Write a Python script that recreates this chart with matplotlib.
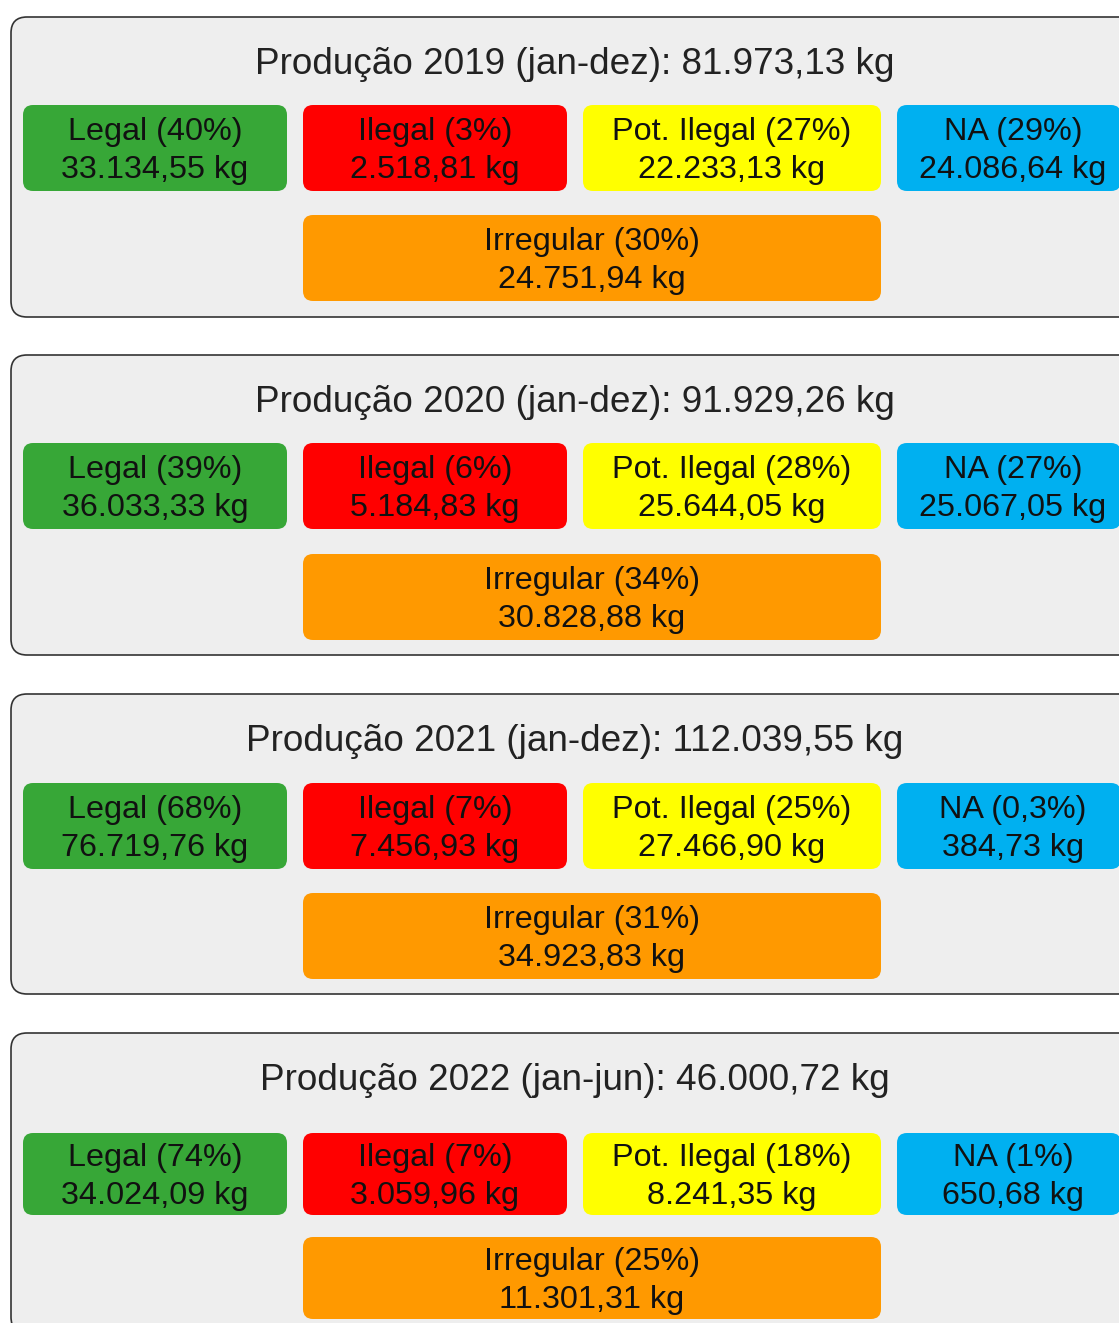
import matplotlib.pyplot as plt
from matplotlib.patches import FancyBboxPatch

plt.rcParams['font.family'] = ['Liberation Sans', 'DejaVu Sans']

# data per year
years = ['2019', '2020', '2021', '2022']
periods = ['jan-dez', 'jan-dez', 'jan-dez', 'jan-jun']
totals = ['81.973,13', '91.929,26', '112.039,55', '46.000,72']

categories = ['Legal', 'Ilegal', 'Pot. Ilegal', 'NA', 'Irregular']
pct_legal = ['40%', '39%', '68%', '74%']
pct_ilegal = ['3%', '6%', '7%', '7%']
pct_pot = ['27%', '28%', '25%', '18%']
pct_na = ['29%', '27%', '0,3%', '1%']
pct_irreg = ['30%', '34%', '31%', '25%']

kg_legal = ['33.134,55', '36.033,33', '76.719,76', '34.024,09']
kg_ilegal = ['2.518,81', '5.184,83', '7.456,93', '3.059,96']
kg_pot = ['22.233,13', '25.644,05', '27.466,90', '8.241,35']
kg_na = ['24.086,64', '25.067,05', '384,73', '650,68']
kg_irreg = ['24.751,94', '30.828,88', '34.923,83', '11.301,31']

colors = ['#37a737', '#ff0000', '#ffff00', '#00b0f0', '#ff9900']

W, H = 1119, 1323
fig = plt.figure(figsize=(W/100, H/100), dpi=100)
ax = fig.add_axes([0, 0, 1, 1])
ax.set_xlim(0, W)
ax.set_ylim(H, 0)
ax.axis('off')

# layout (pixels)
panel_top = [17, 355, 694, 1033]
panel_h = 300
title_off = 47.5
row1_off = [88, 88, 89, 100]
row2_off = [198, 199, 199, 204]
box_h = [86, 86, 86, 82]
cols_x = [(23, 287), (303, 567), (583, 881), (897, 1121)]
irreg_x = (303, 881)

def rbox(x0, x1, y0, h, fc, ec='none', lw=0, r=10):
    p = FancyBboxPatch((x0 + r, y0 + r), (x1 - x0) - 2*r, h - 2*r,
                       boxstyle='round,pad=%d' % r, fc=fc, ec=ec, lw=lw)
    ax.add_patch(p)

def label(xc, yc, top, bottom):
    ax.text(xc, yc - 16, top, ha='center', va='center', fontsize=23.3, color='#111111')
    ax.text(xc, yc + 22, bottom, ha='center', va='center', fontsize=23.3, color='#111111')

for i in range(len(years)):
    t = panel_top[i]
    rbox(11, 1140, t, panel_h, '#eeeeee', '#333333', 1.2, r=16)
    ax.text(575, t + title_off, 'Produção %s (%s): %s kg' % (years[i], periods[i], totals[i]),
            ha='center', va='center', fontsize=26.6, color='#222222')
    pcts = [pct_legal[i], pct_ilegal[i], pct_pot[i], pct_na[i]]
    kgs = [kg_legal[i], kg_ilegal[i], kg_pot[i], kg_na[i]]
    y0 = t + row1_off[i]
    for j in range(4):
        x0, x1 = cols_x[j]
        rbox(x0, x1, y0, box_h[i], colors[j])
        label((x0 + x1) / 2 if j < 3 else 1013, y0 + box_h[i] / 2,
              '%s (%s)' % (categories[j], pcts[j]), '%s kg' % kgs[j])
    y0 = t + row2_off[i]
    rbox(irreg_x[0], irreg_x[1], y0, box_h[i], colors[4])
    label((irreg_x[0] + irreg_x[1]) / 2, y0 + box_h[i] / 2,
          '%s (%s)' % (categories[4], pct_irreg[i]), '%s kg' % kg_irreg[i])

fig.savefig('out.png', dpi=100, facecolor='white')
